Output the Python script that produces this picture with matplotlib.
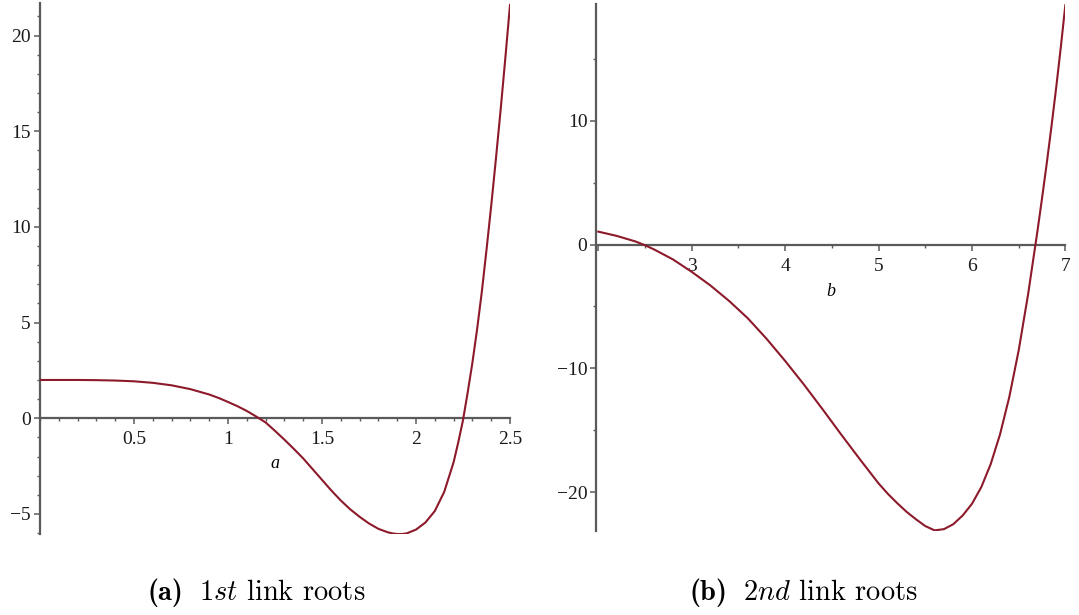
import matplotlib
matplotlib.use('Agg')
import matplotlib.pyplot as plt
from matplotlib.ticker import MultipleLocator, FixedLocator

plt.rcParams['mathtext.fontset'] = 'cm'
plt.rcParams['font.family'] = ['Liberation Serif', 'DejaVu Serif']

CURVE = '#8c1a2a'
AXIS = '#5a5a5a'

# 1st link: residual vs a
a_vals = [0.0, 0.1, 0.2, 0.3, 0.4, 0.5, 0.6, 0.7, 0.8, 0.9, 0.95, 1.0, 1.05, 1.1,
          1.15, 1.2, 1.25, 1.3, 1.35, 1.4, 1.45, 1.5, 1.55, 1.6, 1.65, 1.7, 1.75,
          1.8, 1.85, 1.875, 1.9, 1.925, 1.95, 2.0, 2.05, 2.1, 2.15, 2.2, 2.225, 2.25, 2.275,
          2.3, 2.325, 2.35, 2.375, 2.4, 2.425, 2.45, 2.475, 2.5]
f_a = [2.00, 2.00, 2.00, 1.99, 1.97, 1.93, 1.85, 1.72, 1.52, 1.24, 1.06, 0.85, 0.63, 0.38,
       0.09, -0.22, -0.66, -1.12, -1.60, -2.10, -2.66, -3.22, -3.78, -4.30, -4.76, -5.15, -5.50,
       -5.78, -5.96, -6.02, -6.05, -6.05, -6.02, -5.82, -5.45, -4.85, -3.85, -2.30, -1.25, -0.10, 1.35,
       2.90, 4.65, 6.60, 8.80, 11.10, 13.55, 16.10, 18.80, 21.60]

# 2nd link: residual vs b
b_vals = [2.0, 2.2, 2.4, 2.5, 2.6, 2.8, 3.0, 3.2, 3.4, 3.6, 3.8, 4.0, 4.2, 4.4,
          4.6, 4.8, 5.0, 5.1, 5.2, 5.3, 5.4, 5.5, 5.6, 5.7, 5.8, 5.9, 6.0, 6.1,
          6.2, 6.3, 6.4, 6.5, 6.6, 6.7, 6.75, 6.8, 6.85, 6.9, 6.95, 7.0]
f_b = [1.05, 0.70, 0.25, -0.05, -0.40, -1.20, -2.20, -3.30, -4.55, -5.95, -7.60, -9.40, -11.30, -13.30,
       -15.35, -17.35, -19.30, -20.15, -20.90, -21.60, -22.20, -22.75, -23.10, -23.00, -22.60, -21.90, -20.95, -19.60,
       -17.75, -15.35, -12.30, -8.55, -4.05, 1.05, 3.75, 6.55, 9.50, 12.60, 15.90, 19.40]

W, H = 1079, 615
fig = plt.figure(figsize=(W / 100, H / 100), dpi=100)


def setup_axes(ax, xlim, ylim, x_major, x_minor, y_major, y_minor, y_spine):
    ax.set_xlim(*xlim)
    ax.set_ylim(*ylim)
    for side in ('top', 'right'):
        ax.spines[side].set_visible(False)
    ax.spines['bottom'].set_position(('data', 0))
    ax.spines['left'].set_position(('data', y_spine))
    for side in ('bottom', 'left'):
        ax.spines[side].set_color(AXIS)
        ax.spines[side].set_linewidth(1.6)
    ax.xaxis.set_major_locator(FixedLocator(x_major))
    ax.xaxis.set_minor_locator(MultipleLocator(x_minor))
    ax.yaxis.set_major_locator(FixedLocator(y_major))
    ax.yaxis.set_minor_locator(MultipleLocator(y_minor))
    ax.tick_params(which='major', direction='out', length=4.5, width=1.1, color=AXIS,
                   labelsize=14, labelcolor='#1a1a1a', pad=2)
    ax.tick_params(axis='x', which='major', pad=5)
    ax.tick_params(which='minor', direction='out', length=2.5, width=1.0, color=AXIS)
    ax.patch.set_alpha(0)


# (a) 1st link
ax1 = fig.add_axes([40 / W, 1 - 534 / H, 470 / W, 531 / H])
ax1.plot(a_vals, f_a, color=CURVE, lw=1.5, zorder=3)
setup_axes(ax1, (0, 2.5), (-6.05, 21.7), [0.5, 1, 1.5, 2, 2.5], 0.1,
           [-5, 0, 5, 10, 15, 20], 1, 0)
ax1.set_xticklabels(['0.5', '1', '1.5', '2', '2.5'])
ax1.set_xlabel('a', style='italic', fontsize=13)
ax1.xaxis.set_label_coords(0.5, 0.148)

# (b) 2nd link
ax2 = fig.add_axes([596.4 / W, 1 - 531 / H, 469 / W, 527 / H])
ax2.plot(b_vals, f_b, color=CURVE, lw=1.5, zorder=3)
setup_axes(ax2, (1.98, 7.0), (-23.15, 19.45), [2, 3, 4, 5, 6, 7], 0.5,
           [-20, -10, 0, 10], 5, 1.98)
ax2.set_xticklabels(['', '3', '4', '5', '6', '7'])
ax2.set_xlabel('b', style='italic', fontsize=13)
ax2.xaxis.set_label_coords(0.5, 0.47)

# sub-captions
cap_y = 1 - 600 / H
for x_tag, x_rest, tag, rest in [(147, 199, '(a)', r'$1st$ link roots'),
                                 (690, 743, '(b)', r'$2nd$ link roots')]:
    fig.text(x_tag / W, cap_y, tag, family='cmb10', fontsize=20.5,
             ha='left', va='baseline')
    fig.text(x_rest / W, cap_y, rest, family='cmr10', fontsize=20.5,
             ha='left', va='baseline')

fig.savefig('out.png', dpi=100)
